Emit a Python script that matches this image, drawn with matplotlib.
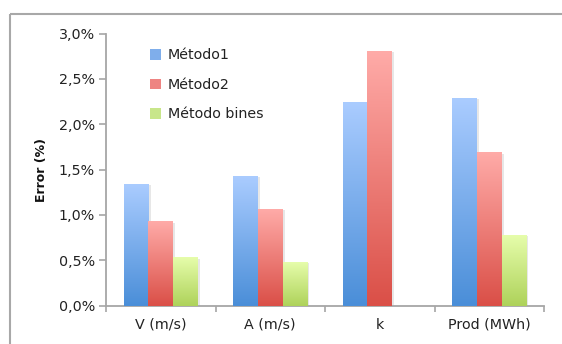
import numpy as np
import matplotlib
matplotlib.use("Agg")
import matplotlib.pyplot as plt
from matplotlib.colors import LinearSegmentedColormap
from matplotlib.ticker import FuncFormatter, FixedLocator
from matplotlib.lines import Line2D
import matplotlib.patheffects as pe

categories = ["V (m/s)", "A (m/s)", "k", "Prod (MWh)"]
series_names = ["Método1", "Método2", "Método bines"]
metodo1 = [1.34, 1.43, 2.25, 2.29]
metodo2 = [0.93, 1.07, 2.81, 1.69]
metodo_bines = [0.53, 0.48, 0.0, 0.78]
yticks = [0.0, 0.5, 1.0, 1.5, 2.0, 2.5, 3.0]

grad = [("#AACCFF", "#4A8ED8"), ("#FFABA8", "#DA4F47"), ("#E6FDAB", "#AED25A")]
legend_col = ["#7FAEEB", "#EE8482", "#C8E68A"]

plt.rcParams['font.family'] = ['DejaVu Sans']
fig = plt.figure(figsize=(5.62, 3.44), dpi=100)
ax = fig.add_axes([106/562, 1-305.5/344, (544-106)/562, (305.5-33.7)/344])

x = np.arange(len(categories))
w = 0.225
data = [metodo1, metodo2, metodo_bines]

gimg = np.linspace(1, 0, 256).reshape(-1, 1)
for i, (vals, (ctop, cbot)) in enumerate(zip(data, grad)):
    cmap = LinearSegmentedColormap.from_list(f"g{i}", [cbot, ctop])
    bars = ax.bar(x + (i - 1) * w, vals, w, facecolor="none", edgecolor="none",
                  label=series_names[i], zorder=2)
    for b in bars:
        h = b.get_height()
        if h <= 0:
            continue
        b.set_path_effects([pe.SimplePatchShadow(offset=(1.5, -1), shadow_rgbFace="#888888", alpha=0.2)])
        bx, by = b.get_x(), b.get_y()
        im = ax.imshow(gimg, cmap=cmap, aspect="auto",
                       extent=[bx, bx + b.get_width(), by, by + h],
                       origin="upper", zorder=3, vmin=0, vmax=1)
        im.set_clip_path(b)

ax.set_xlim(-0.5, len(categories) - 0.5)
ax.set_ylim(0, 3.0)

for s in ["top", "right"]:
    ax.spines[s].set_visible(False)
for s in ["left", "bottom"]:
    ax.spines[s].set_color("#A6A6A6")
    ax.spines[s].set_linewidth(1.3)

ax.set_yticks(yticks)
ax.yaxis.set_major_formatter(FuncFormatter(lambda v, p: f"{v:.1f}%".replace(".", ",")))
ax.tick_params(axis="y", length=5, width=1.2, color="#A6A6A6", labelsize=10.3, labelcolor="#222222", pad=3)
ax.set_xticks(x)
ax.set_xticklabels(categories)
ax.tick_params(axis="x", which="major", length=0, labelsize=10.3, labelcolor="#222222", pad=9)
ax.xaxis.set_minor_locator(FixedLocator(np.arange(-0.5, len(categories), 1.0)))
ax.tick_params(axis="x", which="minor", length=4, width=1.2, color="#A6A6A6")

ax.set_ylabel("Error (%)", fontsize=9, fontweight="bold", color="#111111", labelpad=8)

handles = [plt.Rectangle((0, 0), 1, 1, facecolor=c, edgecolor="none") for c in legend_col]
leg = ax.legend(handles, series_names, loc="upper left", bbox_to_anchor=(0.072, 0.993),
                frameon=False, fontsize=10.3, handlelength=0.75, handleheight=0.75,
                handletextpad=0.45, labelspacing=1.08, labelcolor="#222222")

fig.add_artist(Line2D([9.5/562, 9.5/562], [-0.05, 1-13.5/344], transform=fig.transFigure,
                      color="#A8A8A8", lw=1.5, solid_capstyle="butt"))
fig.add_artist(Line2D([9.5/562, 1.05], [1-13.5/344, 1-13.5/344], transform=fig.transFigure,
                      color="#A8A8A8", lw=1.5, solid_capstyle="butt"))

fig.savefig("out.png", dpi=100)
